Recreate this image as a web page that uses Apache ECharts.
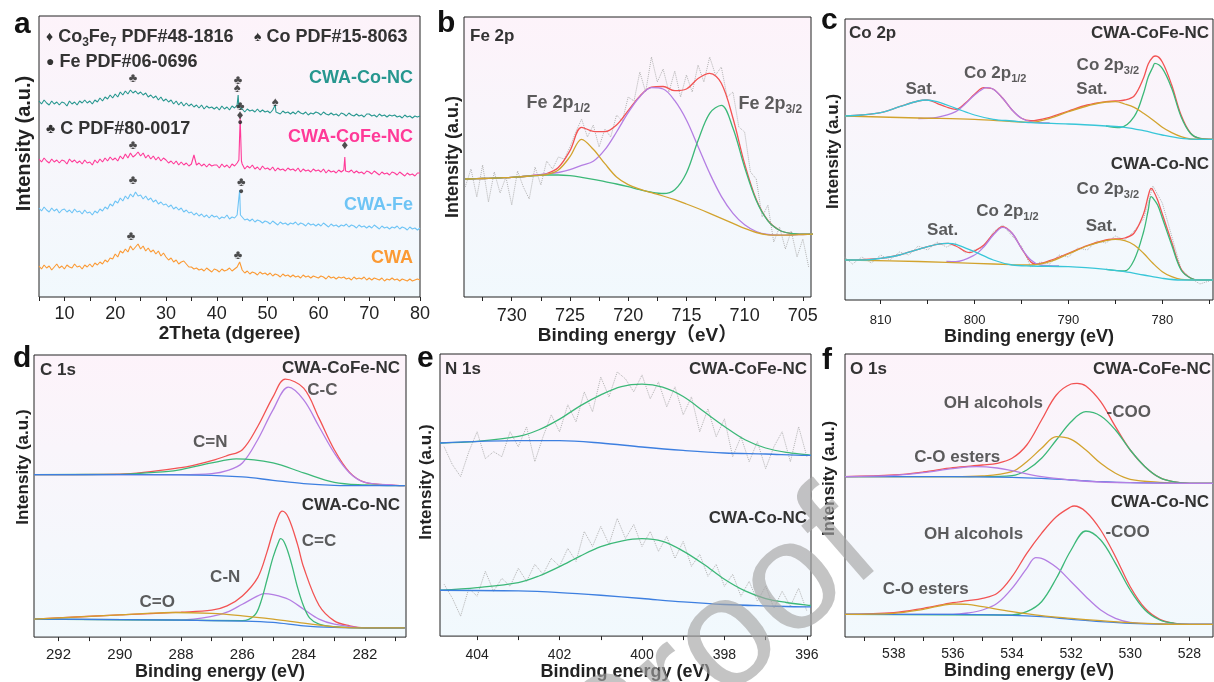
<!DOCTYPE html>
<html>
<head>
<meta charset="utf-8">
<script src="https://cdn.jsdelivr.net/npm/echarts@6/dist/echarts.min.js"></script>
<style>html,body{margin:0;background:#fff}#container{width:1214px;height:682px}</style>
</head>
<body>
<div id="container"></div>
<script>
// ---------- data (intensities are arbitrary units) ----------
// (a) XRD, 2theta from 5 to 80 in 0.5 steps
var xrdStart = 5, xrdStep = 0.5;
var xrdCWA = [31,28,32,29,31,27,30,33,29,31, 28,32,30,29,33,30,31,28,32,30, 33,30,34,32,35,33,37,35,39,38,
  43,40,46,44,48,45,51,47,50,53, 48,51,46,49,45,47,43,46,41,44, 40,37,39,35,37,33,35,36,33,30,
  30,28,29,27,28,26,29,27,25,28, 27,25,28,26,27,29,26,28,30,35, 27,24,26,23,25,24,22,25,23,24,
  22,24,21,23,22,20,23,21,22,20, 22,20,21,19,22,20,21,19,21,20, 19,21,20,18,21,19,20,18,20,19,
  20,18,19,17,20,18,19,18,20,17, 19,17,19,18,17,19,16,18,17,19, 17,18,16,18,17,16,18,16,17,18, 17];
var xrdFe = [89,86,90,87,85,89,86,88,84,87, 88,85,87,84,88,85,86,83,87,84, 85,82,86,84,88,86,90,88,93,91,
  96,94,99,96,101,98,103,100,105,101, 102,98,101,97,99,95,97,93,95,92, 93,90,92,88,90,87,89,85,87,84,
  85,82,84,81,83,80,82,79,82,80, 81,78,80,79,82,78,80,79,82,82, 80,77,78,76,78,75,77,76,74,76,
  75,73,76,74,72,75,73,74,72,74, 73,75,72,74,73,71,74,72,73,71, 73,71,74,72,70,73,71,72,70,72,
  71,73,70,72,71,69,72,70,71,69, 71,69,72,70,68,71,69,70,68,70, 69,71,68,70,69,67,70,68,69,67, 69];
var xrdCoFe = [138,135,139,136,134,138,135,137,134,137, 136,133,138,135,137,134,136,133,137,134, 135,132,137,134,138,135,139,136,140,137,
  139,136,141,138,143,139,144,140,142,145, 141,144,139,142,138,141,137,140,136,139, 137,134,136,133,136,132,135,132,134,131,
  133,142,132,134,131,133,130,133,131,132, 132,129,133,130,132,129,133,131,134,136, 133,128,131,129,132,128,130,127,131,128,
  129,127,130,126,129,127,128,126,129,127, 128,126,129,125,128,126,127,125,128,126, 127,125,128,124,127,125,126,124,127,125,
  127,126,125,127,124,126,124,125,123,126, 125,123,126,124,122,125,123,124,122,125, 124,122,125,123,121,124,122,123,121,124, 124];
var xrdCo = [196,193,197,194,192,196,193,195,192,195, 194,191,196,193,195,192,196,194,197,194, 196,193,197,195,199,196,200,198,202,199,
  203,200,205,202,206,203,207,204,206,203, 205,202,204,200,202,199,201,197,200,196, 198,195,197,193,196,192,195,191,194,191,
  193,190,192,189,192,188,191,189,190,188, 190,187,191,188,190,187,191,189,192,190, 188,185,188,186,187,185,188,185,187,185,
  186,184,187,186,185,183,186,184,185,183, 185,183,186,184,183,185,182,184,183,185, 184,182,185,183,182,184,182,183,181,184,
  183,181,184,182,181,183,181,182,180,183, 183,181,182,180,183,181,182,180,182,181, 182,180,181,179,182,180,181,179,181,180, 181];
// sharp reflections [2theta, intensity]
var spikesFe = [[[44.35, 84], [44.5, 107], [44.65, 82]]];
var spikesCoFe = [[[44.35, 137], [44.6, 179], [44.85, 136]], [[65.05, 127], [65.2, 140], [65.35, 126]]];
var spikesCo = [[[44.05, 191], [44.2, 202], [44.35, 190]], [[51.35, 186], [51.5, 192], [51.65, 185]]];
var xrdTicks = [5,10,15,20,25,30,35,40,45,50,55,60,65,70,75,80];
var xrdLabels = [10,20,30,40,50,60,70,80];
// phase markers [2theta, intensity, symbol]
var xrdMarks = [[23.5,219,'♣'],[44.2,217,'♣'],[44.0,209,'♠'],[51.5,195,'♠'],
  [23.5,152,'♣'],[44.6,191,'♣'],[44.6,182,'♦'],[65.2,152,'♦'],
  [23.5,117,'♣'],[44.8,115,'♣'],[23.1,61,'♣'],[44.2,42,'♣']];
var xrdDots = [[44.6,174,'●'],[44.8,105,'●']];

// (b) Fe 2p, binding energy from 734 to 704 eV in 1 eV steps
var feStart = 734, feStep = -1;
var feOlive = [118,118.3,118.7,119.2,119.7,120.5,121.3,122.5,127,140.3,157.7,147.7,133.3,120,112.3,107.8,104.3,101,97.3,93,
  88.5,83.7,78.7,73.7,68.7,64.5,62.2,61.8,62,62.5,63];
var fePurple = [118,118.3,118.7,119.2,119.7,120.5,121.8,123,124.5,127.3,131.7,135.7,147.3,165,184.3,200.3,209.3,208,196.3,177,
  150.5,123.7,100.7,83.7,72.2,65.5,62.5,61.8,62,62.5,63];
var feGreen = [118,118.3,118.7,119.2,119.7,120.5,121.3,122,122,121.3,119.7,117.7,115.3,113,110.3,107.3,104.8,103.5,107.3,124,
  156.5,183.7,191.7,168.7,129.7,96.5,76.2,66.8,63.5,62.8,63];
var feRed = [118,118.3,118.7,119.2,119.7,120.5,121.8,123.5,129.5,146.3,169.7,165.7,165.3,172,186.3,200.8,209.8,210.5,206.3,208,
  218.5,223.7,213.7,178.7,133.2,97.5,76.5,66.8,63.5,62.8,63];
var feRaw = [110,128,100,132,95,125,104,120,92,126,110,98,130,112,136,128,140,138,150,165,178,160,172,150,168,160,182,176,200,196,
  225,205,240,215,228,205,226,200,222,205,232,215,240,222,230,200,205,170,165,125,118,80,92,55,70,48,66,40,58,30];
var feRawStart = 734, feRawStep = -0.5;
var feTicks = [705,707.5,710,712.5,715,717.5,720,722.5,725,727.5,730,732.5];
var feLabels = [705,710,715,720,725,730];
var feNotes = [[726.0,194,'Fe 2p{s|1/2}'],[707.8,193,'Fe 2p{s|3/2}']];

// (c) Co 2p  [binding energy, intensity]
var coTopRed = [[813.8,184],[812,185],[810,187.3],[808,193.3],[806,199],[805,200],[804,196.7],[803,193],[802,190.7],[801,196.7],[800,205.7],
  [799,212.3],[798,210.7],[797,201.7],[796,190],[795,181.7],[794,179.3],[792,182.7],[790,189],[788,195],[786,198.3],[785,199],[784,200],
  [783,204],[782,222],[781.5,236],[781,243],[780.7,244],[780,238],[779,215],[778,185],[777,167],[776,161.5],[774.6,160.7]];
var coTopSatA = [[813.8,184],[812,185],[810,187.3],[808,193.3],[806,199],[805.2,200],[804,198.3],[802,191.7],[800,185],[798,180.7],[796,179],
  [794,177.3],[790,176],[786,174],[784,172.7],[782,169.3],[780,165],[778,161.7],[776,160.7],[774.6,160.7]];
var coTopP12 = [[806,181.5],[804,182.7],[802,188.3],[801,196],[800,205],[799,211.7],[798.7,212.3],[798,210.7],[797,201.7],[796,190],
  [795,181.7],[794,178.3],[792,177]];
var coTopSatB = [[813.8,184],[806,182],[800,180.7],[796,178.5],[794,177.7],[792,181.7],[790,188.3],[788,194],[786,198],[785,198.3],[784,196],
  [783,192.7],[782,186.7],[781,180],[780,172.7],[779,167.3],[778,163.3],[777,161],[776,160.7],[774.6,160.7]];
var coTopP32 = [[786,174],[784.5,172.5],[783,183.3],[782,206.7],[781.5,223],[781,233],[780.8,236.7],[780,231.7],[779,211.7],[778,183.3],
  [777,166.7],[776,161.7],[774.6,160.7]];
var coBotRaw = [44,36,43,37,45,40,48,45,54,50,58,53,57,47,50,53,68,75,64,54,33,38,36,45,43,52,50,59,57,64,60,69,81,114,97,64,31,22,16,19];
var coRawStart = 814, coRawStep = -1;
var coBotRed = [[813.8,40],[810,41.7],[808,45],[806,50.7],[804,55.7],[802.8,56.7],[802,54],[800.5,47.3],[800,49],[799,55],[798,66],
  [797,73.3],[796,66.7],[795,51.7],[794,38],[793.5,36],[792,39.3],[790,46.7],[788,54.3],[786,60],[785,61],[784,62],[783,67],[782,86],
  [781.5,104],[781.2,111.5],[781,110],[780.5,100],[780,86],[779,58],[778,31],[777,22],[776,20],[774.6,20]];
var coBotSatA = [[813.8,40],[812,40],[810,41.7],[808,45],[806,50.7],[804,55.7],[802.8,56.7],[802,55.7],[800,48.3],[798,40],[796,35],
  [794,34],[790,33.3],[786,30.7],[784,28.3],[782,25],[780,21.7],[778,20],[774.6,20]];
var coBotP12 = [[803,38.5],[802,38.3],[800,45],[799,53.3],[798,65],[797,72.7],[796,66.7],[795,51.7],[794,40],[793,35],[791,34]];
var coBotSatB = [[813.8,40],[806,38.5],[800,36.7],[796,35.3],[794,35],[792,38.3],[790,46],[788,54],[786,59.3],[785,60.7],[784,59.3],
  [783,55],[782,46.7],[781,36.7],[780,28.3],[779,23.3],[778,20.7],[776,20],[774.6,20]];
var coBotP32 = [[786,30.7],[784,29],[783,40],[782,68],[781.5,90],[781.2,103.3],[781,102],[780.5,95],[780,82],[779,55],[778,30],[777,22],
  [776,20],[774.6,20]];
var coTicks = [775,780,785,790,795,800,805,810];
var coLabels = [780,790,800,810];
var coNotes = [[805.7,211,'Sat.'],[797.8,227,'Co 2p{s|1/2}'],[785.8,235,'Co 2p{s|3/2}'],[787.5,211,'Sat.'],
  [785.8,111,'Co 2p{s|3/2}'],[796.5,89,'Co 2p{s|1/2}'],[803.4,70,'Sat.'],[786.5,74,'Sat.']];

// (d) C 1s
var cTopRed = [[292.8,163],[290,163.5],[288,170],[287,177],[286.5,182],[286,188],[285.5,211.3],[285,241],[284.6,258.7],[284,249.7],
  [283.5,219.7],[283,188],[282.5,165.3],[282,155.3],[281,152.3],[280.7,152]];
var cTopCC = [[292.8,163],[288,163],[287,164],[286.5,167],[286,174.7],[285.5,198],[285,228],[284.5,250.7],[284,238],[283.5,211.3],
  [283,184.7],[282.5,164.7],[282,155.3],[281,152.3],[280.7,152]];
var cTopCN = [[292.8,163],[290,163.3],[288.5,166],[288,168],[287,174.7],[286.2,178.7],[285,174.7],[284,164.7],[283,155.3],[282,152.7],
  [281,152],[280.7,152]];
var cTopBase = [[292.8,163],[288,162.7],[286,160.7],[285,157.3],[284,154],[283,152.3],[282,152],[280.7,152]];
var cBotRed = [[292.8,18],[290,22.3],[288,25],[287,27],[286.5,31.3],[286,41.3],[285.5,59.7],[285.2,85],[285,106],[284.8,123],[284.7,126.3],
  [284.5,120],[284.2,93],[284,70],[283.5,32],[283,16.3],[282.5,11.3],[282,9.3],[280.7,9.3]];
var cBotCC = [[292.8,18],[288,17],[286,16.5],[285.6,22],[285.4,35],[285.2,57],[285,80],[284.8,97],[284.75,98.7],[284.6,93],[284.4,74],
  [284.2,50],[284,31],[283.8,19],[283.5,13],[283,10.5],[282,9.3],[280.7,9.3]];
var cBotCN = [[292.8,18],[288,17.3],[287,20.7],[286.5,25],[286,33],[285.5,41.3],[285.3,43.7],[285,42.7],[284.5,38],[284,28],[283.5,18],
  [283,13],[282,9.3],[280.7,9.3]];
var cBotCO = [[292.8,18],[292,19.3],[290,22.3],[289,24],[288.3,24.7],[287,23.7],[286,21.3],[285,18],[284,14],[283,10.3],[282,9.3],[280.7,9.3]];
var cBotBase = [[292.8,18],[288,17],[286,16],[285,14.7],[284,11.3],[283,9.7],[282,9.3],[280.7,9.3]];
var cTicks = [281,282,283,284,285,286,287,288,289,290,291,292];
var cLabels = [282,284,286,288,290,292];
var cNotes = [[283.39,248,'C-C'],[287.05,195,'C=N'],[283.5,96,'C=C'],[286.56,60,'C-N'],[288.78,35,'C=O']];

// (e) N 1s
var nTopRaw = [190,172,160,185,205,178,185,180,205,190,210,175,200,222,205,232,215,245,225,260,240,265,258,245,262,238,255,230,250,222,
  240,205,228,200,218,180,200,175,195,168,190,205,175,210,180];
var nBotRaw = [52,38,20,48,40,65,45,58,50,68,55,72,62,78,70,88,75,105,90,110,92,118,98,112,90,105,85,100,78,95,
  70,82,60,72,50,62,40,55,35,50,28,45,30,48,25];
var nRawStart = 404.8, nRawStep = -0.2;
var nTopFit = [[404.9,193.7],[404,195.3],[403,200.3],[402.5,207],[402,217.7],[401.5,231],[401,242],[400.5,250.3],[400,252.7],[399.5,249.7],
  [399,240.3],[398.5,225.3],[398,210.3],[397.5,197],[397,188.7],[396.5,184.3],[396,182],[395.9,181.3]];
var nTopBase = [[404.9,193.7],[403,196],[402,196],[401,193.7],[400,189.7],[399,186.3],[398,183.7],[397,182.7],[396,181.3],[395.9,181.3]];
var nBotFit = [[404.9,46],[404,48.7],[403,53.7],[402.5,60.3],[402,69.7],[401.5,80.3],[401,89.7],[400.5,95.3],[400,97.7],[399.5,95],
  [399,85.3],[398.5,72],[398,57],[397.5,45.3],[397,37.7],[396.5,33.7],[396,31],[395.9,30.7]];
var nBotBase = [[404.9,46],[403,45.3],[402,43.7],[401,41],[400,37.7],[399,34.3],[398,31.7],[397,30.3],[396,29.3],[395.9,29.3]];
var nTicks = [396,397,398,399,400,401,402,403,404];
var nLabels = [396,398,400,402,404];

// (f) O 1s
var oTopRed = [[539.65,160.3],[538,162],[537,165],[536,169.3],[535,172],[534.5,173.7],[534,178.7],[533.5,192],[533,217],[532.5,242],
  [532,253],[531.8,253.7],[531.5,251],[531,235.3],[530.5,210.3],[530,187],[529.5,170.3],[529,159.3],[528.5,155],[528,153.7],[527.2,153.7]];
var oTopCOO = [[539.65,160.3],[535,160.3],[534,161.3],[533.5,167],[533,178.7],[532.5,197],[532,215.3],[531.5,225.3],[531,221],[530.5,207],
  [530,187],[529.5,170.3],[529,159.3],[528.5,155],[528,153.7],[527.2,153.7]];
var oTopOH = [[539.65,160.3],[536,160.3],[535,161],[534,165.3],[533.5,175.3],[533,188.7],[532.5,200.3],[532,197.7],[531.5,187],[531,173.7],
  [530.5,163.7],[530,157.7],[529,154.7],[528,153.7],[527.2,153.7]];
var oTopEst = [[539.65,160.3],[538,161.7],[537,164.3],[536,168.3],[535.2,170.3],[534.5,169],[534,166.3],[533,160.3],[532,157],[531,155],
  [530,154.3],[528,153.7],[527.2,153.7]];
var oTopBase = [[539.65,160.3],[536,160.3],[534,159.7],[533,158.7],[532,157],[531,155.3],[530,154.3],[528,153.7],[527.2,153.7]];
var oBotRed = [[539.65,22.7],[538,24.3],[537,28.7],[536,34.3],[535.5,36.3],[535,38.7],[534.5,43.7],[534,60.3],[533.5,83.7],[533,103.7],
  [532.5,120.3],[532,130.3],[531.9,131],[531.5,125.3],[531,107],[530.5,80.3],[530,50.3],[529.5,28.7],[529,17.7],[528.5,13.7],[528,12.7],[527.2,12.7]];
var oBotCOO = [[539.65,22.7],[534,22],[533.5,25.3],[533,35.3],[532.5,58.7],[532,87],[531.5,106],[531,97],[530.5,73.7],[530,47],[529.5,27],
  [529,17],[528.5,13.7],[528,12.7],[527.2,12.7]];
var oBotOH = [[539.65,22.7],[536,22.7],[535.5,24],[535,27],[534.5,33.7],[534,48.7],[533.5,68.7],[533.2,79.3],[533,78.7],[532.5,69.7],
  [532,55.3],[531.5,40.3],[531,27],[530.5,18.7],[530,14.7],[529,13],[528,12.7],[527.2,12.7]];
var oBotEst = [[539.65,22.7],[538,23.7],[537,27.7],[536,33],[535.5,32.7],[535,30.3],[534,25.3],[533,21.3],[532,18.7],[531,16.3],[530,14.3],
  [529,13],[528,12.7],[527.2,12.7]];
var oBotBase = [[539.65,22.7],[536,22.7],[534,21.7],[533,20.3],[532,17.7],[531,15.3],[530,13.7],[528,12.7],[527.2,12.7]];
var oTicks = [528,529,530,531,532,533,534,535,536,537,538,539];
var oLabels = [528,530,532,534,536,538];
var oNotes = [[534.63,234,'OH alcohols'],[530.05,225,'-COO'],[535.85,180,'C-O esters'],
  [535.3,103,'OH alcohols'],[530.09,105,'-COO'],[536.92,48,'C-O esters']];

// ---------- styling ----------
var FONT = '"Liberation Sans", Arial, "DejaVu Sans", "Noto Sans CJK SC", sans-serif';
var TXT = '#333';
var RED = '#f25353', PURPLE = '#b47ee3', GREEN = '#3cb878', OLIVE = '#d2a32e', BLUE = '#3d7fe0', CYAN = '#38c6d8', RAW = '#b3b3b3';
var XRD_COL = { cwa: '#fb9a34', fe: '#6ec4f5', cofe: '#ff3a98', co: '#27978f' };

var dom = document.getElementById('container');
var myChart = echarts.init(dom, null, { renderer: 'canvas' });

function bg() {
  return new echarts.graphic.LinearGradient(0, 0, 0, 1, [
    { offset: 0, color: '#fdf3fa' }, { offset: 1, color: '#f1f9fd' }
  ]);
}

var panels = [
  { grid: { left: 39, top: 16, width: 381, height: 281 }, min: 5, max: 80, inverse: false, ticks: xrdTicks, labels: xrdLabels,
    lfs: 18, margin: 8, name: '2Theta (dgeree)', nfs: 19, ngap: 25, yfs: 20, ygap: 5, ypad: 26 },
  { grid: { left: 464, top: 17, width: 347, height: 280 }, min: 704.3, max: 734.1, inverse: true, ticks: feTicks, labels: feLabels,
    lfs: 18, margin: 10, name: 'Binding energy（eV）', nfs: 19, ngap: 25, yfs: 18, ygap: 2, ypad: 0 },
  { grid: { left: 845, top: 19, width: 368, height: 281 }, min: 774.6, max: 813.8, inverse: true, ticks: coTicks, labels: coLabels,
    lfs: 13, margin: 14, name: 'Binding energy (eV)', nfs: 18, ngap: 24, yfs: 17, ygap: 3, ypad: 16 },
  { grid: { left: 34, top: 355, width: 372, height: 283 }, min: 280.66, max: 292.8, inverse: true, ticks: cTicks, labels: cLabels,
    lfs: 15, margin: 10, name: 'Binding energy (eV)', nfs: 18, ngap: 22, yfs: 17, ygap: 2, ypad: 58 },
  { grid: { left: 440, top: 354, width: 371, height: 283 }, min: 395.9, max: 404.9, inverse: true, ticks: nTicks, labels: nLabels,
    lfs: 14, margin: 12, name: 'Binding energy (eV)', nfs: 18, ngap: 23, yfs: 17, ygap: 5, ypad: 26 },
  { grid: { left: 845, top: 354, width: 368, height: 283 }, min: 527.2, max: 539.65, inverse: true, ticks: oTicks, labels: oLabels,
    lfs: 14, margin: 10, name: 'Binding energy (eV)', nfs: 18, ngap: 22, yfs: 17, ygap: 7, ypad: 34 }
];

var grids = panels.map(function (p) {
  return Object.assign({ show: true, backgroundColor: bg(), borderColor: '#222', borderWidth: 1, containLabel: false }, p.grid);
});
var xAxes = panels.map(function (p, i) {
  return {
    type: 'value', gridIndex: i, min: p.min, max: p.max, inverse: p.inverse,
    axisLine: { show: false }, splitLine: { show: false },
    axisTick: { show: true, inside: false, length: 4, customValues: p.ticks, lineStyle: { color: '#222' } },
    axisLabel: { show: true, customValues: p.labels, margin: p.margin, fontSize: p.lfs, color: '#222', fontFamily: FONT },
    name: p.name, nameLocation: 'middle', nameGap: p.ngap,
    nameTextStyle: { fontSize: p.nfs, fontWeight: 'bold', color: '#222', fontFamily: FONT, verticalAlign: 'top' }
  };
});
var yAxes = panels.map(function (p, i) {
  return {
    type: 'value', gridIndex: i, min: 0, max: p.grid.height,
    axisLine: { show: false }, axisTick: { show: false }, axisLabel: { show: false }, splitLine: { show: false },
    name: 'Intensity (a.u.)', nameLocation: 'middle', nameRotate: 90, nameGap: p.ygap,
    nameTextStyle: { fontSize: p.yfs, fontWeight: 'bold', color: '#222', fontFamily: FONT, padding: [0, 0, 0, p.ypad] }
  };
});

function line(gi, data, color, width, dotted) {
  return {
    type: 'line', xAxisIndex: gi, yAxisIndex: gi, data: data, symbol: 'none', silent: true,
    smooth: dotted ? false : 0.35, clip: true,
    lineStyle: { color: color, width: width || 1.3, type: dotted ? 'dotted' : 'solid' }
  };
}
function grid1d(values, start, step) {
  return values.map(function (v, i) { return [+(start + step * i).toFixed(3), v]; });
}
function withSpikes(values, groups) {
  var pts = grid1d(values, xrdStart, xrdStep);
  groups.forEach(function (g) {
    var lo = g[0][0], hi = g[g.length - 1][0];
    pts = pts.filter(function (p) { return p[0] <= lo || p[0] >= hi; }).concat(g);
  });
  return pts.sort(function (a, b) { return a[0] - b[0]; });
}
function notes(gi, list, color, size, subSize) {
  return {
    type: 'scatter', xAxisIndex: gi, yAxisIndex: gi, symbolSize: 1, silent: true, z: 6,
    itemStyle: { color: 'rgba(0,0,0,0)' },
    data: list.map(function (d) { return { value: [d[0], d[1]], name: d[2] }; }),
    label: {
      show: true, position: 'inside', formatter: '{b}', color: color, fontSize: size, fontWeight: 'bold', fontFamily: FONT,
      rich: { s: { fontSize: subSize || 12, fontWeight: 'bold', color: color, fontFamily: FONT, padding: [12, 0, 0, 0] } }
    }
  };
}

var series = [
  // a
  line(0, grid1d(xrdCWA, xrdStart, xrdStep), XRD_COL.cwa, 1.1),
  line(0, withSpikes(xrdFe, spikesFe), XRD_COL.fe, 1.1),
  line(0, withSpikes(xrdCoFe, spikesCoFe), XRD_COL.cofe, 1.1),
  line(0, withSpikes(xrdCo, spikesCo), XRD_COL.co, 1.1),
  notes(0, xrdMarks, '#222', 13),
  notes(0, xrdDots, '#222', 9),
  // b
  line(1, grid1d(feRaw, feRawStart, feRawStep), RAW, 1, true),
  line(1, grid1d(feRed, feStart, feStep), RED), line(1, grid1d(fePurple, feStart, feStep), PURPLE),
  line(1, grid1d(feGreen, feStart, feStep), GREEN), line(1, grid1d(feOlive, feStart, feStep), OLIVE),
  notes(1, feNotes, TXT, 18, 12),
  // c
  line(2, grid1d(coBotRaw, coRawStart, coRawStep), RAW, 1, true),
  line(2, coTopRed, RED), line(2, coTopP12, PURPLE), line(2, coTopP32, GREEN), line(2, coTopSatB, OLIVE), line(2, coTopSatA, CYAN),
  line(2, coBotRed, RED), line(2, coBotP12, PURPLE), line(2, coBotP32, GREEN), line(2, coBotSatB, OLIVE), line(2, coBotSatA, CYAN),
  notes(2, coNotes, TXT, 17, 11),
  // d
  line(3, cTopRed, RED), line(3, cTopCC, PURPLE), line(3, cTopCN, GREEN), line(3, cTopBase, BLUE),
  line(3, cBotRed, RED), line(3, cBotCN, PURPLE), line(3, cBotCC, GREEN), line(3, cBotBase, BLUE), line(3, cBotCO, OLIVE),
  notes(3, cNotes, TXT, 17),
  // e
  line(4, grid1d(nTopRaw, nRawStart, nRawStep), RAW, 1, true),
  line(4, grid1d(nBotRaw, nRawStart, nRawStep), RAW, 1, true),
  line(4, nTopFit, GREEN), line(4, nTopBase, BLUE), line(4, nBotFit, GREEN), line(4, nBotBase, BLUE),
  // f
  line(5, oTopRed, RED), line(5, oTopCOO, GREEN), line(5, oTopOH, OLIVE), line(5, oTopBase, BLUE), line(5, oTopEst, PURPLE),
  line(5, oBotRed, RED), line(5, oBotCOO, GREEN), line(5, oBotOH, PURPLE), line(5, oBotBase, BLUE), line(5, oBotEst, OLIVE),
  notes(5, oNotes, TXT, 17)
];
// XRD traces are noisy, draw them unsmoothed
for (var k = 0; k < 4; k++) { series[k].smooth = false; }

function txt(x, y, text, size, color, align, extra) {
  return Object.assign({
    type: 'text', x: x, y: y, z: 50, silent: true,
    style: {
      text: text, fill: color || TXT, font: 'bold ' + size + 'px ' + FONT, align: align || 'left', verticalAlign: 'middle',
      rich: {
        s: { fill: color || TXT, font: 'bold ' + Math.round(size * 0.68) + 'px ' + FONT, padding: [12, 0, 0, 0] },
        y: { fill: color || TXT, font: 'bold ' + Math.round(size * 0.8) + 'px ' + FONT }
      }
    }
  }, extra || {});
}

var graphics = [
  // panel letters
  txt(14, 25, 'a', 30, '#111'), txt(437, 24, 'b', 30, '#111'), txt(821, 21, 'c', 30, '#111'),
  txt(13, 359, 'd', 30, '#111'), txt(417, 359, 'e', 30, '#111'), txt(822, 361, 'f', 30, '#111'),
  // panel a legend and sample names
  txt(46, 37, '{y|♦} Co{s|3}Fe{s|7} PDF#48-1816', 18), txt(254, 37, '{y|♠} Co PDF#15-8063', 18),
  txt(46, 62, '{y|●} Fe PDF#06-0696', 18), txt(46, 129, '{y|♣} C PDF#80-0017', 18),
  txt(413, 78, 'CWA-Co-NC', 18, XRD_COL.co, 'right'), txt(413, 137, 'CWA-CoFe-NC', 18, XRD_COL.cofe, 'right'),
  txt(413, 205, 'CWA-Fe', 18, XRD_COL.fe, 'right'), txt(413, 258, 'CWA', 18, XRD_COL.cwa, 'right'),
  // panel titles and sample names
  txt(470, 36, 'Fe 2p', 17), txt(849, 33, 'Co 2p', 17), txt(40, 370, 'C 1s', 17), txt(445, 369, 'N 1s', 17), txt(850, 369, 'O 1s', 17),
  txt(1209, 33, 'CWA-CoFe-NC', 17, TXT, 'right'), txt(1209, 164, 'CWA-Co-NC', 17, TXT, 'right'),
  txt(400, 368, 'CWA-CoFe-NC', 17, TXT, 'right'), txt(400, 505, 'CWA-Co-NC', 17, TXT, 'right'),
  txt(807, 369, 'CWA-CoFe-NC', 17, TXT, 'right'), txt(807, 518, 'CWA-Co-NC', 17, TXT, 'right'),
  txt(1211, 369, 'CWA-CoFe-NC', 17, TXT, 'right'), txt(1209, 502, 'CWA-Co-NC', 17, TXT, 'right'),
  // watermark
  {
    type: 'text', x: 718, y: 650, rotation: 41 * Math.PI / 180, z: 100, silent: true,
    style: { text: 'Proof', fill: 'rgba(165,165,165,0.65)', font: '155px ' + FONT, align: 'center', verticalAlign: 'middle' }
  }
];

var option = {
  animation: false,
  backgroundColor: '#fff',
  grid: grids,
  xAxis: xAxes,
  yAxis: yAxes,
  series: series,
  graphic: graphics
};

if (option && typeof option === 'object') {
  myChart.setOption(option);
}
window.addEventListener('resize', myChart.resize);
</script>
</body>
</html>
